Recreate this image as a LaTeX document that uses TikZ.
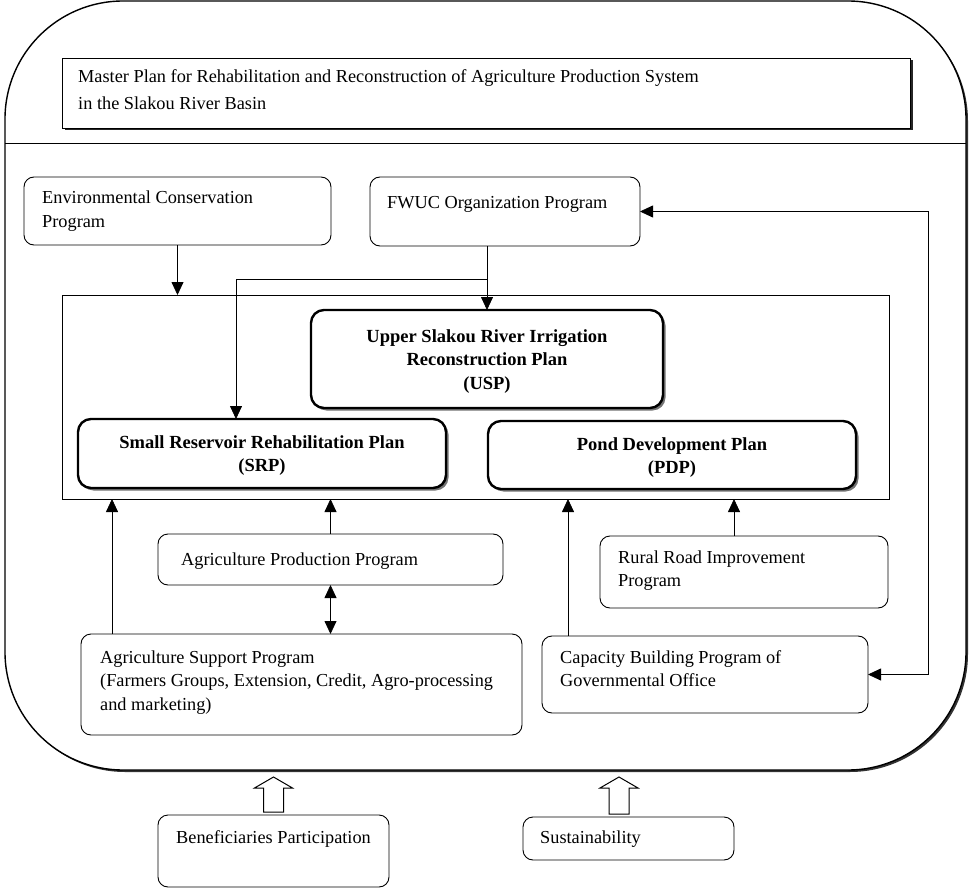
\documentclass[tikz,border=0pt]{standalone}
\usepackage{fontspec}
\setmainfont{Liberation Serif}
\usetikzlibrary{arrows.meta,shadows,calc}
\newcommand{\Lft}[1]{\begin{tabular}[t]{@{}l@{}}#1\end{tabular}}
\newcommand{\Ctr}[1]{\begin{tabular}[t]{@{}c@{}}#1\end{tabular}}
\begin{document}
\begin{tikzpicture}[x=1pt,y=-1pt,
  font=\fontsize{18.3}{23.5}\selectfont,
  prog/.style={draw, line width=0.9pt, rounded corners=10pt, inner sep=0pt, outer sep=0pt, anchor=north west},
  plan/.style={draw, line width=2.4pt, rounded corners=13pt, fill=white, inner sep=0pt, outer sep=0pt, anchor=north west,
     drop shadow={shadow xshift=2.5pt, shadow yshift=-2.5pt, fill=black!55, opacity=1}},
  txt/.style={inner sep=0pt, anchor=base west},
  ctxt/.style={inner sep=0pt, anchor=base, font=\fontsize{18.5}{23.5}\selectfont\bfseries},
  arr/.style={line width=0.8pt, -{Triangle[length=13pt,width=12pt]}},
  darr/.style={line width=0.8pt, {Triangle[length=13pt,width=12pt]}-{Triangle[length=13pt,width=12pt]}},
  hollow/.style={draw, line width=1pt, fill=white, line join=miter}
]
\useasboundingbox (0,0) rectangle (970,888);

% outer frame
\node[draw, line width=1.4pt, rounded corners=118pt, fill=white, inner sep=0pt, outer sep=0pt, anchor=north west,
  minimum width=961pt, minimum height=769pt,
  drop shadow={shadow xshift=2pt, shadow yshift=-2pt, fill=black!80, opacity=1}] (frame) at (5,1) {};
\coordinate (divy) at (0,143);
\draw[line width=0.9pt] (frame.west |- divy) -- (frame.east |- divy);

% title
\node[draw, line width=0.9pt, fill=white, inner sep=0pt, outer sep=0pt, anchor=north west,
  minimum width=848pt, minimum height=70pt,
  drop shadow={shadow xshift=2.5pt, shadow yshift=-2.5pt, fill=black!85, opacity=1}] (title) at (62,58) {};
\node[txt, font=\fontsize{18.3}{27}\selectfont] (titlet) at (78,83)
  {\Lft{Master Plan for Rehabilitation and Reconstruction of Agriculture Production System\\in the Slakou River Basin}};

% programs (upper)
\node[prog, minimum width=307pt, minimum height=68pt] (env) at (24,177) {};
\node[txt] (envt) at (42,204) {\Lft{Environmental Conservation\\Program}};
\node[prog, minimum width=270pt, minimum height=69pt] (fwuc) at (370,177) {};
\node[txt] (fwuct) at (387,209) {FWUC Organization Program};

% inner frame
\node[draw, line width=0.6pt, inner sep=0pt, outer sep=0pt, anchor=north west,
  minimum width=827pt, minimum height=204pt] (inner) at (62,295) {};

% plans
\node[plan, minimum width=352pt, minimum height=98pt] (usp) at (311,310) {};
\node[ctxt] (uspt) at (487,342) {\Ctr{Upper Slakou River Irrigation\\Reconstruction Plan\\(USP)}};
\node[plan, minimum width=368pt, minimum height=69pt] (srp) at (78,419) {};
\node[ctxt] (srpt) at (262,448) {\Ctr{Small Reservoir Rehabilitation Plan\\(SRP)}};
\node[plan, minimum width=368pt, minimum height=68pt] (pdp) at (488,421) {};
\node[ctxt] (pdpt) at (672,450) {\Ctr{Pond Development Plan\\(PDP)}};

% programs (lower)
\node[prog, minimum width=345pt, minimum height=51pt] (agp) at (158,534) {};
\node[txt] (agpt) at (181,565) {Agriculture Production Program};
\node[prog, minimum width=288pt, minimum height=72pt] (rural) at (600,536) {};
\node[txt] (ruralt) at (618,563) {\Lft{Rural Road Improvement\\Program}};
\node[prog, minimum width=441pt, minimum height=101pt] (agsup) at (81,634) {};
\node[txt] (agsupt) at (100,663) {\Lft{Agriculture Support Program\\(Farmers Groups, Extension, Credit, Agro-processing\\and marketing)}};
\node[prog, minimum width=326pt, minimum height=77pt] (cap) at (542,636) {};
\node[txt] (capt) at (560,663) {\Lft{Capacity Building Program of\\Governmental Office}};

% outside boxes
\node[prog, minimum width=231pt, minimum height=72pt] (ben) at (158,815) {};
\node[txt] (bent) at (176,843) {Beneficiaries Participation};
\node[prog, minimum width=211pt, minimum height=43pt] (sust) at (523,817) {};
\node[txt] (sustt) at (540,843) {Sustainability};

% connectors
\draw[arr] (env.south) -- (env.south |- inner.north);
\coordinate (fjy) at (0,279);
\coordinate (fj) at (usp.north |- fjy);
\draw[arr] (usp.north |- fwuc.south) -- (usp.north);
\coordinate (srpin) at ($(srp.north west)+(158,0)$);
\draw[arr] (fj) -| (srpin);
\coordinate (rl) at (928,0);
\draw[darr] (fwuc.east) -- (fwuc.east -| rl) |- (cap.east);
\draw[arr] (agp.north) -- (agp.north |- inner.south);
\draw[darr] (agp.south) -- (agp.south |- agsup.north);
\coordinate (asx) at (112,0);
\draw[arr] (asx |- agsup.north) -- (asx |- inner.south);
\coordinate (cx) at (568,0);
\draw[arr] (cx |- cap.north) -- (cx |- inner.south);
\coordinate (rx) at ($(rural.north)+(-10,0)$);
\draw[arr] (rx) -- (rx |- inner.south);

% hollow block arrows
\coordinate (b1) at ($(ben.north)+(0,-3)$);
\coordinate (t1) at ($(b1 |- frame.south)+(0,7)$);
\draw[hollow] ($(b1)+(-10,0)$) -- ($(t1)+(-10,11)$) -- ($(t1)+(-19,11)$) -- (t1) -- ($(t1)+(19,11)$) -- ($(t1)+(10,11)$) -- ($(b1)+(10,0)$) -- cycle;
\coordinate (b2) at ($(sust.north)+(-9.5,-3)$);
\coordinate (t2) at ($(b2 |- frame.south)+(0,7)$);
\draw[hollow] ($(b2)+(-10,0)$) -- ($(t2)+(-10,11)$) -- ($(t2)+(-19,11)$) -- (t2) -- ($(t2)+(19,11)$) -- ($(t2)+(10,11)$) -- ($(b2)+(10,0)$) -- cycle;
\end{tikzpicture}
\end{document}
